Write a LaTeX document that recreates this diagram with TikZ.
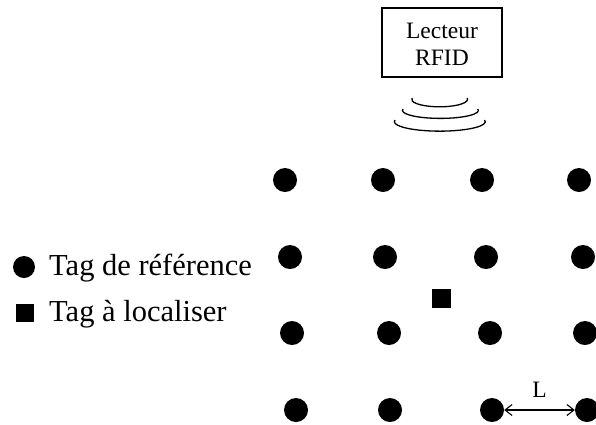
\documentclass[tikz,border=0pt]{standalone}
\usepackage{fontspec}
\setmainfont{Liberation Serif}
\usetikzlibrary{arrows.meta}
\begin{document}
\begin{tikzpicture}[x=1pt,y=-1pt,
  reftag/.style={circle,fill=black,inner sep=0pt,minimum size=24pt},
  loctag/.style={rectangle,fill=black,inner sep=0pt,minimum size=19pt},
  readerbox/.style={draw,line width=1.1pt,minimum width=120pt,minimum height=69pt},
  readerlabel/.style={align=center,inner sep=0pt,font=\fontsize{23.5}{27}\selectfont},
  wave/.style={line width=1.3pt},
  spacing/.style={{Straight Barb[length=7pt,width=11pt]}-{Straight Barb[length=7pt,width=11pt]},line width=1.1pt},
  legendtext/.style={anchor=base west,inner sep=0pt,font=\fontsize{30.5}{33}\selectfont}]
\useasboundingbox (0,0) rectangle (596,424);

% RFID reader
\node[readerbox] (reader) at (442,42.5) {};
\node[readerlabel] (readertext) at ([yshift=-2pt]reader.center) {Lecteur\\RFID};

% emitted waves
\draw[wave] (412,98) arc[start angle=190,end angle=-10,x radius=28,y radius=7.5];
\draw[wave] (403,109) arc[start angle=190,end angle=-10,x radius=38,y radius=8];
\draw[wave] (395,120) arc[start angle=190,end angle=-10,x radius=45.5,y radius=9.5];

% grid of reference tags
\node[reftag] (t11) at (285,180) {};
\node[reftag] (t12) at (383,180) {};
\node[reftag] (t13) at (482,180) {};
\node[reftag] (t14) at (579,180) {};
\node[reftag] (t21) at (290,257) {};
\node[reftag] (t22) at (385,257) {};
\node[reftag] (t23) at (486,257) {};
\node[reftag] (t24) at (583,257) {};
\node[reftag] (t31) at (292,333) {};
\node[reftag] (t32) at (389,333) {};
\node[reftag] (t33) at (490,333) {};
\node[reftag] (t34) at (585,333) {};
\node[reftag] (t41) at (296,410) {};
\node[reftag] (t42) at (390,410) {};
\node[reftag] (t43) at (492,410) {};
\node[reftag] (t44) at (587,410) {};

% tag to be located
\node[loctag] (target) at (441,298) {};

% spacing between reference tags
\draw[spacing] (t43.east) -- node[above=12pt,inner sep=0pt,font=\fontsize{23.5}{26}\selectfont] (lbl) {L} (t44.west);

% legend
\node[reftag,minimum size=22pt] (legref) at (24,267) {};
\node[legendtext] (legreftext) at (49,275) {Tag de référence};
\node[loctag,minimum size=18pt] (legloc) at (25,313) {};
\node[legendtext] (legloctext) at (49,321) {Tag à localiser};
\end{tikzpicture}
\end{document}
